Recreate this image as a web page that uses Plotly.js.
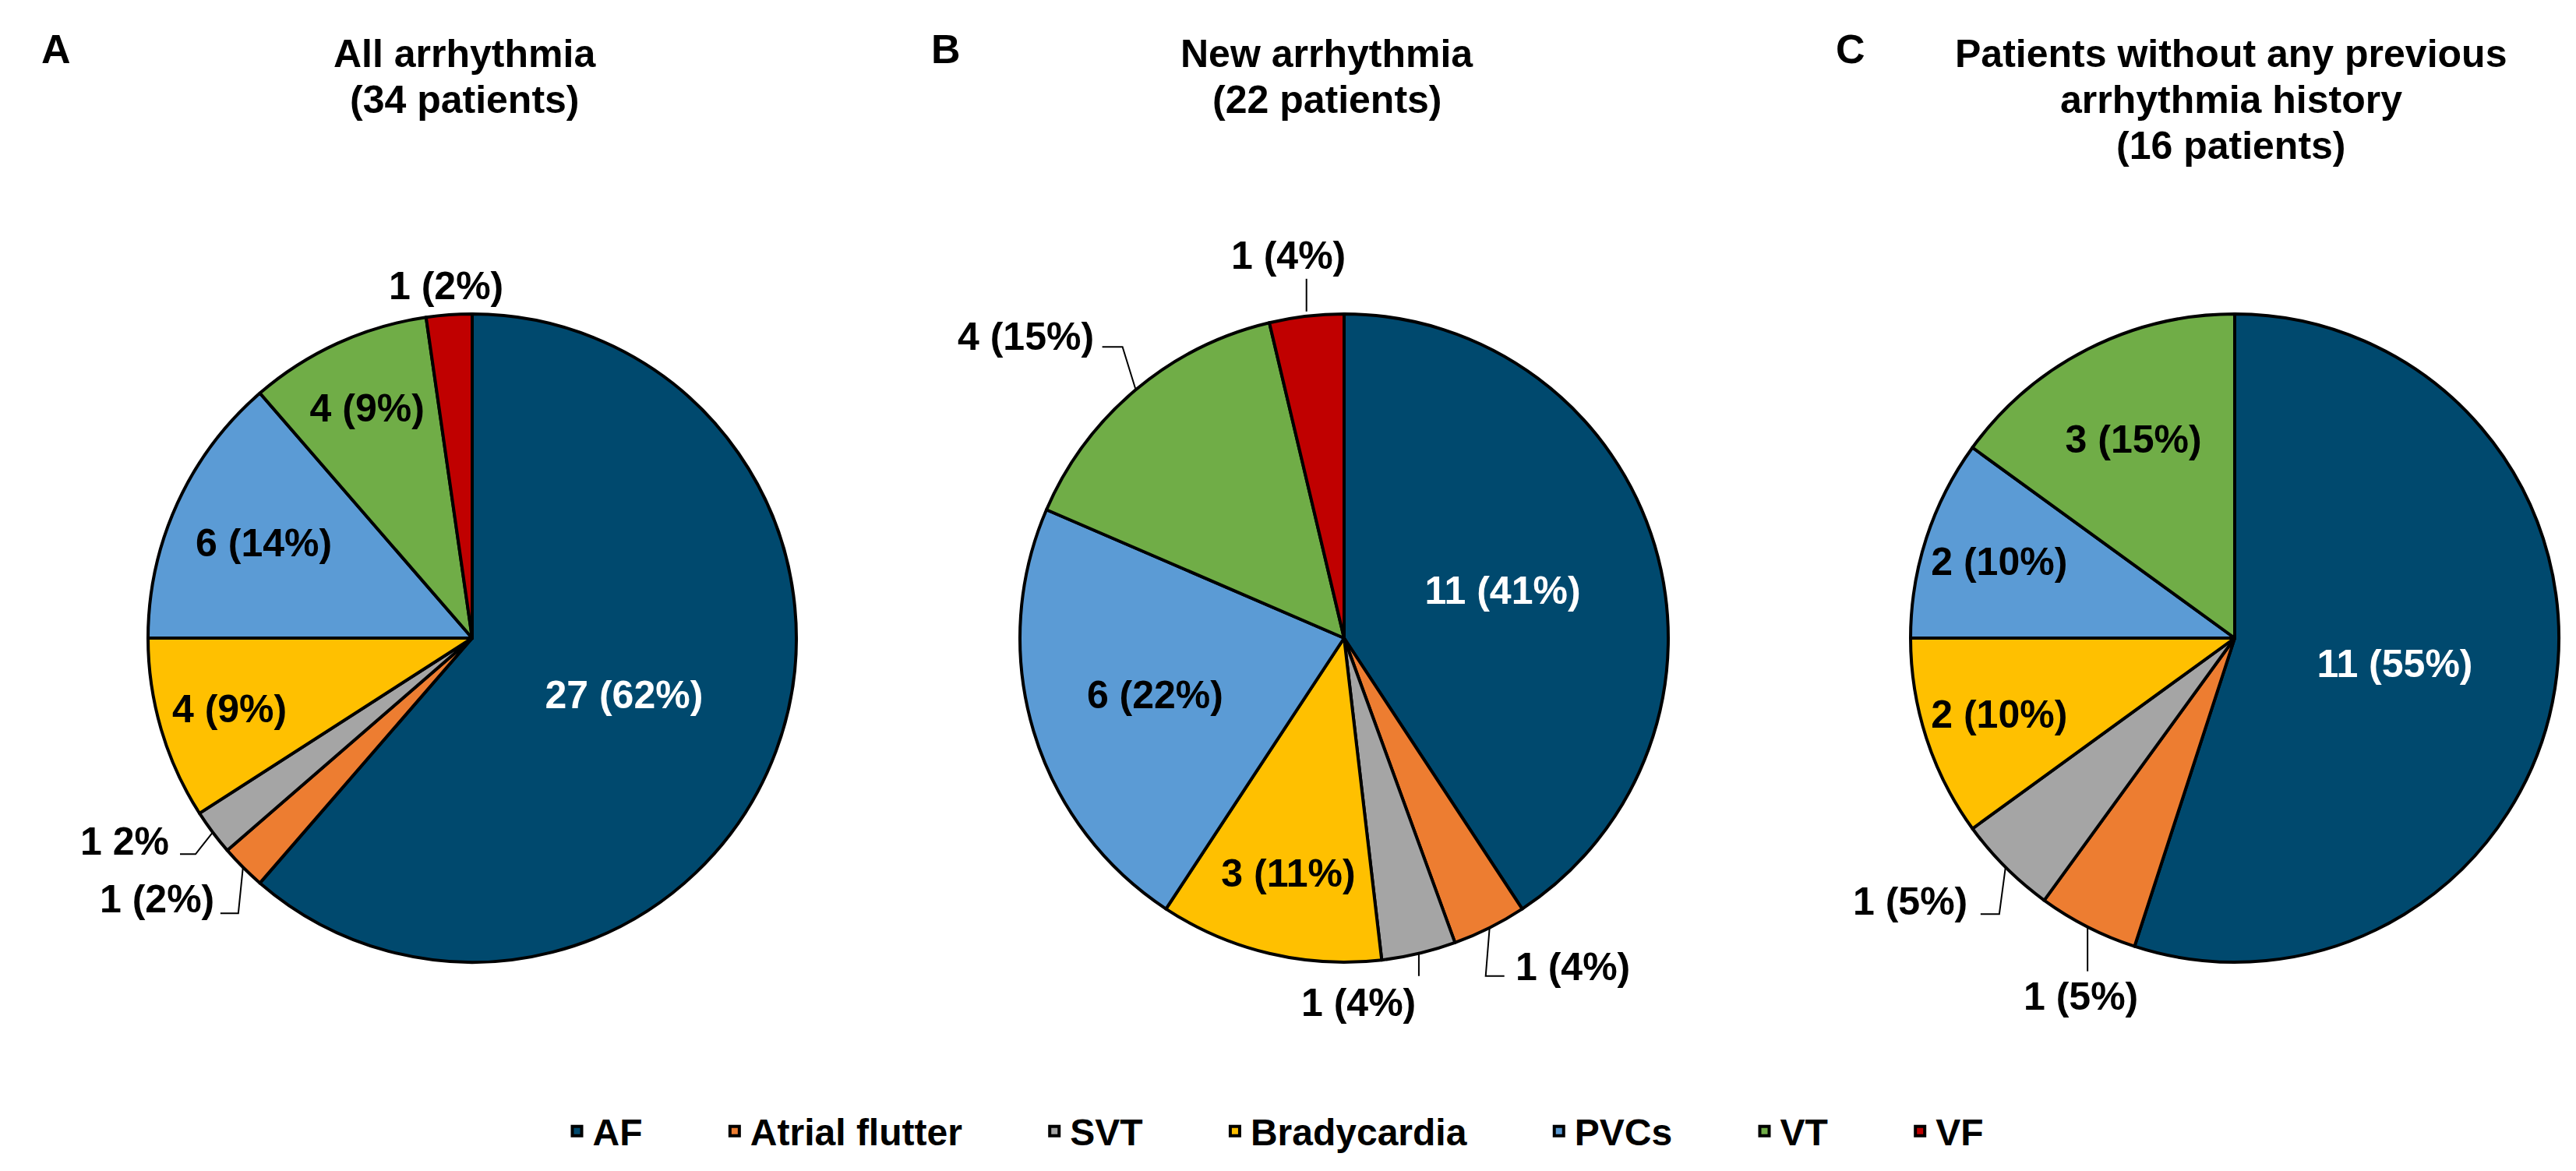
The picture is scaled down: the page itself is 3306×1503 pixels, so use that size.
<!DOCTYPE html>
<html><head><meta charset="utf-8">
<script src="https://cdn.plot.ly/plotly-3.0.1.min.js"></script>
<style>html,body{margin:0;padding:0;background:#fff;} #chart{width:3306px;height:1503px;}</style>
</head><body><div id="chart"></div>
<script>
// ---- data ----
const categories = ['AF', 'Atrial flutter', 'SVT', 'Bradycardia', 'PVCs', 'VT', 'VF'];
const countsA = [27, 1, 1, 4, 6, 4, 1];
const countsB = [11, 1, 1, 3, 6, 4, 1];
const countsC = [11, 1, 1, 2, 2, 3, 0];
const labelsA = ['27 (62%)', '1 (2%)', '1 2%', '4 (9%)', '6 (14%)', '4 (9%)', '1 (2%)'];
const labelsB = ['11 (41%)', '1 (4%)', '1 (4%)', '3 (11%)', '6 (22%)', '4 (15%)', '1 (4%)'];
const labelsC = ['11 (55%)', '1 (5%)', '1 (5%)', '2 (10%)', '2 (10%)', '3 (15%)', ''];
const panelLetters = ['A', 'B', 'C'];
const panelTitles = [
  ['All arrhythmia', '(34 patients)'],
  ['New arrhythmia', '(22 patients)'],
  ['Patients without any previous', 'arrhythmia history', '(16 patients)']
];

// ---- style / layout ----
const colors = ['#00496E', '#ED7D31', '#A5A5A5', '#FFC000', '#5B9BD5', '#70AD47', '#C00000'];
const FONT = 'Liberation Sans, Arial, Helvetica, sans-serif';
const W = 3306, H = 1503;
const R = 416, CY = 819;
const centersX = [606, 1725, 2868];
const letterX = [72, 1214, 2375];
const titleX = [596, 1703, 2863];
const titleTop = 39, titlePitch = 59;
const domains = centersX.map(cx => ({x: [(cx - R) / W, (cx + R) / W], y: [1 - (CY + R) / H, 1 - (CY - R) / H]}));

// outside labels: offsets (px) from the slice's outer mid point, and leader line path
const outside = [
  {6: {dx: -4, dy: -37, xa: 'center', path: null},
   2: {dx: -54, dy: 12, xa: 'right', path: [[0, 0], [-22, 28], [-42, 28]]},
   1: {dx: -35, dy: 41, xa: 'right', path: [[0, 0], [-6, 59], [-29, 59]]}},
  {6: {dx: -23, dy: -78, xa: 'center', path: [[0, -6], [0, -48]]},
   5: {dx: -52, dy: -68, xa: 'right', path: [[0, 0], [-17, -55], [-43, -55]]},
   2: {dx: -2, dy: 63, xa: 'right', path: [[0, 0], [0, 29]]},
   1: {dx: 31, dy: 50, xa: 'left', path: [[0, 0], [-5, 62], [19, 62]]}},
  {2: {dx: -47, dy: 44, xa: 'right', path: [[0, 0], [-8, 60], [-32, 60]]},
   1: {dx: -9, dy: 89, xa: 'center', path: [[0, 0], [0, 57]]}}
];

const sets = [[countsA, labelsA], [countsB, labelsB], [countsC, labelsC]];
const NB = '\u00a0';
const legendLabels = categories.map((c, i) => i < categories.length - 1 ? c + NB.repeat(7) : c);
const textColors = categories.map((c, i) => i === 0 ? '#ffffff' : '#000000');

const traces = sets.map(([vals, labs], k) => ({
  type: 'pie',
  name: panelLetters[k],
  labels: legendLabels,
  values: vals,
  text: labs,
  textinfo: 'text',
  texttemplate: '%{text}',
  textposition: vals.map((v, i) => outside[k][i] ? 'none' : 'inside'),
  insidetextorientation: 'horizontal',
  textfont: {family: FONT, size: 50, weight: 'bold', color: textColors},
  insidetextfont: {family: FONT, size: 50, weight: 'bold', color: textColors},
  sort: false,
  direction: 'clockwise',
  rotation: 0,
  marker: {colors: colors, line: {color: '#000000', width: 4}},
  domain: domains[k],
  hoverinfo: 'label+value'
}));

const baseAnnotations = [];
panelLetters.forEach((L, k) => {
  baseAnnotations.push({xref: 'paper', yref: 'paper', x: letterX[k] / W, y: 1 - 32 / H, xanchor: 'center', yanchor: 'top',
    text: L, showarrow: false, font: {family: FONT, size: 52, weight: 'bold', color: '#000'}});
  panelTitles[k].forEach((line, j) => {
    baseAnnotations.push({xref: 'paper', yref: 'paper', x: titleX[k] / W, y: 1 - (titleTop + j * titlePitch) / H,
      xanchor: 'center', yanchor: 'top', text: line, showarrow: false,
      font: {family: FONT, size: 50, weight: 'bold', color: '#000'}});
  });
});

const layout = {
  width: W, height: H,
  margin: {l: 0, r: 0, t: 0, b: 0, pad: 0},
  paper_bgcolor: '#ffffff', plot_bgcolor: '#ffffff',
  showlegend: true,
  legend: {orientation: 'h', x: 1636 / W, xanchor: 'center', y: 1 - 1452 / H, yanchor: 'middle',
    font: {family: FONT, size: 48, weight: 'bold', color: '#000'}, bgcolor: 'rgba(0,0,0,0)', traceorder: 'normal'},
  annotations: baseAnnotations
};

Plotly.newPlot('chart', traces, layout, {staticPlot: true, displayModeBar: false}).then(gd => {
  const ann = baseAnnotations.slice();
  const shapes = [];
  gd.calcdata.forEach((cd, k) => {
    const cd0 = cd[0];
    const cx = cd0.cx, cy = cd0.cy, r = cd0.r;
    const vals = sets[k][0];
    const total = vals.reduce((a, b) => a + b, 0);
    let cum = 0;
    vals.forEach((v, i) => {
      const mid = (cum + v / 2) / total * 2 * Math.PI;
      cum += v;
      const cfg = outside[k][i];
      if (!cfg) return;
      const ex = cx + r * Math.sin(mid), ey = cy - r * Math.cos(mid);
      ann.push({xref: 'paper', yref: 'paper', x: (ex + cfg.dx) / W, y: 1 - (ey + cfg.dy) / H,
        xanchor: cfg.xa, yanchor: 'middle', text: sets[k][1][i], showarrow: false,
        font: {family: FONT, size: 50, weight: 'bold', color: '#000'}});
      if (cfg.path) {
        shapes.push({type: 'path', xref: 'paper', yref: 'paper', layer: 'above',
          path: 'M' + cfg.path.map(p => ((ex + p[0]) / W) + ',' + (1 - (ey + p[1]) / H)).join('L'),
          line: {color: '#000000', width: 2}});
      }
    });
  });
  return Plotly.relayout(gd, {annotations: ann, shapes: shapes});
});
</script>
</body></html>
